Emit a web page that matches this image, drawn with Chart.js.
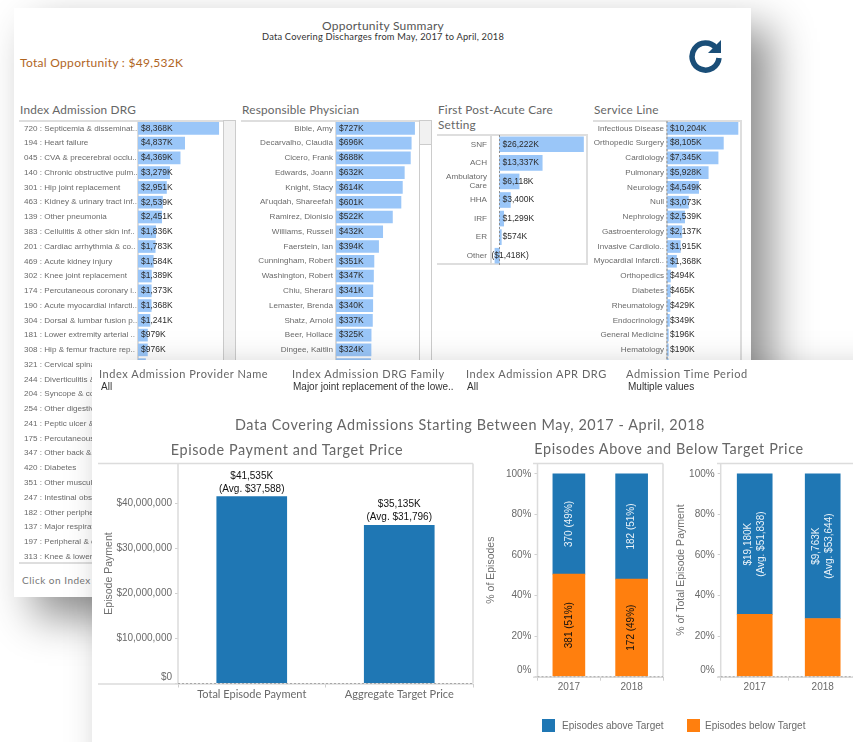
<!DOCTYPE html>
<html lang="en">
<head>
<meta charset="UTF-8" />
<title>Opportunity Summary</title>
<script src="https://cdn.jsdelivr.net/npm/chart.js@4"></script>
<style>
  html, body { margin:0; padding:0; background:#fff; width:853px; height:742px; overflow:hidden; }
  body { position:relative; font-family:"Liberation Sans", Arial, sans-serif; }
  .panel { position:absolute; background:#fff; box-shadow:20px 20px 40px rgba(0,0,0,.45); }
  #back { left:14px; top:8px; width:737px; height:589px; z-index:1; }
  #front { left:92px; top:360px; width:800px; height:420px; z-index:2; }
  .abs { position:absolute; }
  /* all children are placed in page coordinates */
  .layer { position:absolute; white-space:nowrap; }
  canvas { position:absolute; }
  .ttl { font-family:"Lato", "Noto Sans", sans-serif; color:#666; letter-spacing:.2px; }
  .head { font-size:11.8px; top:102px; }
  .filter { font-size:11px; top:367px; letter-spacing:.55px; }
  .pick { font-size:10px; top:381px; color:#333; }
  .big { font-size:14.4px; letter-spacing:.6px; transform:translateX(-50%); }
  .line { position:absolute; background:#dedede; }
  .key { position:absolute; width:13px; height:13px; }
</style>
</head>
<body>
<div class="panel" id="back"></div>
<div class="layer" id="backLayer" style="left:0;top:0;z-index:1;width:853px;height:597px;overflow:hidden">
  <div class="layer ttl" style="left:383px;top:18px;transform:translateX(-50%);font-size:12px;letter-spacing:.25px;color:#555">Opportunity Summary</div>
  <div class="layer ttl" style="left:383px;top:31px;transform:translateX(-50%);font-size:9.3px;color:#333">Data Covering Discharges from May, 2017 to April, 2018</div>
  <div class="layer ttl" style="left:20px;top:55px;font-size:12px;color:#b0651f;letter-spacing:.3px">Total Opportunity : $49,532K</div>
  <svg class="abs" style="left:688px;top:38px" width="36" height="36" viewBox="0 0 36 36">
    <path d="M28 10 A13.5 13.5 0 1 0 31 20" fill="none" stroke="#1a4e78" stroke-width="5.5"/>
    <path d="M33 2 L33 15 L20 15 Z" fill="#1a4e78"/>
  </svg>
  <div class="layer ttl head" style="left:20px">Index Admission DRG</div>
  <div class="layer ttl head" style="left:242px">Responsible Physician</div>
  <div class="layer ttl head" style="left:438px;line-height:15px">First Post-Acute Care<br>Setting</div>
  <div class="layer ttl head" style="left:594px">Service Line</div>

  <div class="line" style="left:19px;top:120px;width:217px;height:2px"></div>
  <div class="line" style="left:19px;top:562px;width:217px;height:1.5px"></div>
  <div class="abs" style="left:223px;top:120px;width:11px;height:443px;background:#f1f1f1;border:1px solid #ccc"></div>
  <div class="line" style="left:241px;top:120px;width:191px;height:2px"></div>
  <div class="abs" style="left:419px;top:120px;width:11px;height:23px;background:#f1f1f1;border:1px solid #ccc"></div>
  <div class="abs" style="left:419px;top:120px;width:11px;height:443px;border:1px solid #ccc"></div>
  <div class="line" style="left:437px;top:134px;width:150px;height:2px"></div>
  <div class="line" style="left:437px;top:263px;width:150px;height:2px"></div>
  <div class="line" style="left:586px;top:134px;width:2px;height:131px"></div>
  <div class="line" style="left:593px;top:120px;width:148px;height:2px"></div>
  <div class="line" style="left:740px;top:120px;width:1.5px;height:443px"></div>

  <canvas id="drgChart" style="left:24px;top:120.6px" width="196" height="443"></canvas>
  <canvas id="physicianChart" style="left:241px;top:120.6px" width="175" height="251"></canvas>
  <canvas id="settingChart" style="left:437px;top:135px" width="149" height="130"></canvas>
  <canvas id="serviceChart" style="left:593px;top:120.6px" width="146" height="251"></canvas>

  <div class="layer ttl" style="left:22px;top:574px;font-size:10px;color:#777;letter-spacing:.5px">Click on Index Admission DRG</div>
</div>

<div class="panel" id="front"></div>
<div class="layer" id="frontLayer" style="left:0;top:0;z-index:2;width:853px;height:742px;overflow:hidden">
  <div class="layer ttl filter" style="left:99px">Index Admission Provider Name</div>
  <div class="layer pick" style="left:101px">All</div>
  <div class="layer ttl filter" style="left:292px">Index Admission DRG Family</div>
  <div class="layer pick" style="left:293px">Major joint replacement of the lowe..</div>
  <div class="layer ttl filter" style="left:466px">Index Admission APR DRG</div>
  <div class="layer pick" style="left:467px">All</div>
  <div class="layer ttl filter" style="left:626px">Admission Time Period</div>
  <div class="layer pick" style="left:628px">Multiple values</div>

  <div class="layer ttl big" style="left:470px;top:416px">Data Covering Admissions Starting Between May, 2017 - April, 2018</div>
  <div class="layer ttl big" style="left:287px;top:441px">Episode Payment and Target Price</div>
  <div class="layer ttl big" style="left:669px;top:440px">Episodes Above and Below Target Price</div>

  <canvas id="paymentChart" style="left:98px;top:460px" width="383" height="250"></canvas>
  <canvas id="episodeChart" style="left:484px;top:460px" width="186" height="240"></canvas>
  <canvas id="shareChart" style="left:672px;top:460px" width="190" height="240"></canvas>

  <div id="legendBox"></div>
</div>

<script>
// values in $K
const drgLabels = [
  '720 : Septicemia & disseminat..', '194 : Heart failure', '045 : CVA & precerebral occlu..',
  '140 : Chronic obstructive pulm..', '301 : Hip joint replacement', '463 : Kidney & urinary tract inf..',
  '139 : Other pneumonia', '383 : Cellulitis & other skin inf..', '201 : Cardiac arrhythmia & co..',
  '469 : Acute kidney injury', '302 : Knee joint replacement', '174 : Percutaneous coronary i..',
  '190 : Acute myocardial infarcti..', '304 : Dorsal & lumbar fusion p..', '181 : Lower extremity arterial ..',
  '308 : Hip & femur fracture rep..', '321 : Cervical spinal fusion', '244 : Diverticulitis & diverticulosis',
  '204 : Syncope & collapse', '254 : Other digestive system', '241 : Peptic ulcer & gastritis',
  '175 : Percutaneous coronary', '347 : Other back & neck', '420 : Diabetes',
  '351 : Other musculoskeletal', '247 : Intestinal obstruction', '182 : Other peripheral vascular',
  '137 : Major respiratory infect..', '197 : Peripheral & other', '313 : Knee & lower leg'
];
const drgValues = [8368, 4837, 4369, 3279, 2951, 2539, 2451, 1836, 1783, 1584, 1389, 1373, 1368, 1241, 979, 976,
  780, 750, 720, 700, 680, 650, 620, 600, 570, 540, 510, 480, 450, 420];

const physicianLabels = ['Bible, Amy', 'Decarvalho, Claudia', 'Cicero, Frank', 'Edwards, Joann', 'Knight, Stacy',
  "Al'uqdah, Shareefah", 'Ramirez, Dionisio', 'Williams, Russell', 'Faerstein, Ian', 'Cunningham, Robert',
  'Washington, Robert', 'Chiu, Sherard', 'Lemaster, Brenda', 'Shatz, Arnold', 'Beer, Hollace', 'Dingee, Kaitlin', ''];
const physicianValues = [727, 696, 688, 632, 614, 601, 522, 432, 394, 351, 347, 341, 340, 337, 325, 324, 320];

const settingLabels = ['SNF', 'ACH', ['Ambulatory', 'Care'], 'HHA', 'IRF', 'ER', 'Other'];
const settingValues = [26222, 13337, 6118, 3400, 1299, 574, -1418];

const serviceLabels = ['Infectious Disease', 'Orthopedic Surgery', 'Cardiology', 'Pulmonary', 'Neurology', 'Null',
  'Nephrology', 'Gastroenterology', 'Invasive Cardiolo..', 'Myocardial Infarcti..', 'Orthopedics', 'Diabetes',
  'Rheumatology', 'Endocrinology', 'General Medicine', 'Hematology', ''];
const serviceValues = [10204, 8105, 7345, 5928, 4549, 3073, 2539, 2137, 1915, 1368, 494, 465, 429, 349, 196, 190, 170];

const paymentLabels = ['Total Episode Payment', 'Aggregate Target Price'];
const paymentValues = [41535000, 35135000];
const paymentAvg = ['$37,588', '$31,796'];
const paymentTicks = [0, 10000000, 20000000, 30000000, 40000000];

const yearLabels = ['2017', '2018'];
const percentTicks = [0, 20, 40, 60, 80, 100];
const legendLabels = ['Episodes above Target', 'Episodes below Target'];
const episodesAbove = [49.4, 51.9];
const episodesBelow = [50.6, 48.1];
const episodesAboveText = ['370 (49%)', '182 (51%)'];
const episodesBelowText = ['381 (51%)', '172 (49%)'];
const shareAbove = [69.3, 71.3];
const shareBelow = [30.7, 28.7];
const shareAboveText = [['$19,180K', '(Avg. $51,838)'], ['$9,763K', '(Avg. $53,644)']];

const LIGHT_BLUE = '#9ac6f8';
const BLUE = '#1f77b4';
const ORANGE = '#ff7f0e';
const SANS = '"Liberation Sans", Arial, sans-serif';
const TREB = '"Lato", "Noto Sans", sans-serif';

function moneyK(v) {
  const s = '$' + Math.abs(v).toLocaleString('en-US') + 'K';
  return v < 0 ? '(' + s + ')' : s;
}

// list style charts of the back panel
function listChart(id, labels, values, o) {
  const valueLabels = {
    id: 'valueLabels',
    afterDatasetsDraw(chart) {
      const ctx = chart.ctx;
      const zero = chart.scales.x.getPixelForValue(0);
      ctx.save();
      if (o.zeroLine) {
        ctx.strokeStyle = '#8f8f8f';
        ctx.setLineDash([2, 2]);
        ctx.beginPath();
        ctx.moveTo(zero, chart.chartArea.top);
        ctx.lineTo(zero, chart.chartArea.bottom);
        ctx.stroke();
        ctx.setLineDash([]);
      }
      ctx.font = '8.5px ' + SANS;
      ctx.fillStyle = '#2b2b2b';
      ctx.textBaseline = 'middle';
      chart.getDatasetMeta(0).data.forEach((bar, i) => {
        const x = values[i] < 0 ? bar.x - 3.5 : zero + 3;
        ctx.fillText(moneyK(values[i]), x, bar.y);
      });
      ctx.restore();
    }
  };
  return new Chart(document.getElementById(id), {
    type: 'bar',
    data: { labels: labels, datasets: [{ data: values, backgroundColor: LIGHT_BLUE, barThickness: o.bar }] },
    options: {
      indexAxis: 'y',
      responsive: false,
      animation: false,
      events: [],
      layout: { padding: 0 },
      plugins: { legend: { display: false }, tooltip: { enabled: false } },
      scales: {
        x: { display: false, min: o.min, max: o.max },
        y: {
          afterFit(scale) { scale.width = o.axis; scale.paddingTop = 0; scale.paddingBottom = 0; },
          grid: { display: false, drawTicks: false },
          border: { color: '#dcdcdc', width: 2 },
          ticks: {
            autoSkip: false,
            crossAlign: o.align,
            padding: o.pad,
            color: '#6a6a6a',
            font: { family: SANS, size: 8.1, lineHeight: 1.1 }
          }
        }
      }
    },
    plugins: [valueLabels]
  });
}

listChart('drgChart', drgLabels, drgValues, { axis: 114, min: 0, max: 8500, bar: 12, align: 'far', pad: 3 });
listChart('physicianChart', physicianLabels, physicianValues, { axis: 95, min: 0, max: 740, bar: 12, align: 'near', pad: 3 });
listChart('settingChart', settingLabels, settingValues, { axis: 54, min: -2650, max: 27000, bar: 15, align: 'near', pad: 4, zeroLine: true });
listChart('serviceChart', serviceLabels, serviceValues, { axis: 74, min: 0, max: 10350, bar: 12, align: 'near', pad: 3, zeroLine: true });

// frame, zero line and text on the marks of the front panel
function framePlugin(o) {
  return {
    id: 'frame',
    afterDatasetsDraw(chart) {
      const ctx = chart.ctx;
      const a = chart.chartArea;
      ctx.save();
      ctx.strokeStyle = '#dcdcdc';
      ctx.lineWidth = 1.5;
      ctx.beginPath();
      ctx.moveTo(o.left, a.top); ctx.lineTo(a.right, a.top);
      ctx.moveTo(a.left, a.top); ctx.lineTo(a.left, a.bottom);
      ctx.moveTo(a.right, a.top); ctx.lineTo(a.right, a.bottom);
      ctx.moveTo(o.left, a.bottom + 0.5); ctx.lineTo(a.right, a.bottom + 0.5);
      ctx.stroke();
      ctx.strokeStyle = '#a8a8a8';
      ctx.lineWidth = 1;
      ctx.setLineDash([2, 2]);
      ctx.beginPath();
      ctx.moveTo(a.left, chart.scales.y.getPixelForValue(0));
      ctx.lineTo(a.right, chart.scales.y.getPixelForValue(0));
      ctx.stroke();
      ctx.restore();
    }
  };
}

function verticalOptions(o) {
  return {
    responsive: false,
    animation: false,
    events: [],
    layout: { padding: { top: 3.5, right: o.right } },
    plugins: { legend: { display: false }, tooltip: { enabled: false } },
    scales: {
      x: {
        stacked: o.stacked,
        afterFit(scale) { scale.height = o.xHeight; scale.paddingLeft = 0; scale.paddingRight = 0; },
        border: { display: false },
        grid: { drawOnChartArea: false, tickLength: 4, color: '#cfcfcf' },
        ticks: { color: '#6a6a6a', padding: o.xPad, font: { family: o.xFont, size: o.xSize } }
      },
      y: {
        stacked: o.stacked,
        min: 0,
        max: o.max,
        afterBuildTicks(scale) { scale.ticks = o.ticks.map(v => ({ value: v })); },
        afterFit(scale) { scale.width = o.yWidth; scale.paddingTop = 0; scale.paddingBottom = 0; },
        border: { display: false },
        title: { display: true, text: o.title, color: '#6f6f6f', padding: { top: o.titlePad, bottom: 0 }, font: { family: SANS, size: 10.5 } },
        grid: { drawOnChartArea: false, tickLength: 3, color: '#cfcfcf' },
        ticks: {
          padding: 3,
          color: '#6a6a6a',
          font: { family: SANS, size: 10, lineHeight: 1.2 },
          callback: o.tick
        }
      }
    }
  };
}

const paymentText = {
  id: 'paymentText',
  afterDatasetsDraw(chart) {
    const ctx = chart.ctx;
    ctx.save();
    ctx.font = '10px ' + SANS;
    ctx.fillStyle = '#111';
    ctx.textAlign = 'center';
    chart.getDatasetMeta(0).data.forEach((bar, i) => {
      ctx.fillText('$' + (paymentValues[i] / 1000).toLocaleString('en-US') + 'K', bar.x, bar.y - 18);
      ctx.fillText('(Avg. ' + paymentAvg[i] + ')', bar.x, bar.y - 5);
    });
    ctx.restore();
  }
};

new Chart(document.getElementById('paymentChart'), {
  type: 'bar',
  data: { labels: paymentLabels, datasets: [{ data: paymentValues, backgroundColor: BLUE, barThickness: 70 }] },
  options: verticalOptions({
    right: 8, stacked: false, xHeight: 26.5, xFont: TREB, xSize: 11, xPad: 0, max: 48900000, yWidth: 80,
    title: 'Episode Payment', titlePad: 5, ticks: paymentTicks,
    tick: v => v === 0 ? ['$0', ''] : '$' + v.toLocaleString('en-US')
  }),
  plugins: [framePlugin({ left: 0 }), paymentText]
});

// rotated text in the middle of a stacked segment
function rotatedText(rows) {
  return {
    id: 'rotatedText',
    afterDatasetsDraw(chart) {
      const ctx = chart.ctx;
      ctx.save();
      ctx.font = '10px ' + SANS;
      ctx.textAlign = 'center';
      ctx.textBaseline = 'middle';
      rows.forEach(r => {
        chart.getDatasetMeta(r.dataset).data.forEach((bar, i) => {
          const lines = [].concat(r.text[i]);
          ctx.save();
          ctx.translate(bar.x, (bar.y + bar.base) / 2);
          ctx.rotate(-Math.PI / 2);
          ctx.fillStyle = r.color;
          lines.forEach((t, n) => ctx.fillText(t, 0, (n - (lines.length - 1) / 2) * 13.5));
          ctx.restore();
        });
      });
      ctx.restore();
    }
  };
}

const percentTick = v => v === 0 ? ['0%', ''] : v + '%';

new Chart(document.getElementById('episodeChart'), {
  type: 'bar',
  data: {
    labels: yearLabels,
    datasets: [
      { label: legendLabels[1], data: episodesBelow, backgroundColor: ORANGE, barThickness: 32 },
      { label: legendLabels[0], data: episodesAbove, backgroundColor: BLUE, barThickness: 32 }
    ]
  },
  options: verticalOptions({
    right: 7, stacked: true, xHeight: 23.3, xFont: SANS, xSize: 10, xPad: 1, max: 105.1, yWidth: 53.5,
    title: '% of Episodes', titlePad: 1, ticks: percentTicks, tick: percentTick
  }),
  plugins: [framePlugin({ left: 49 }), rotatedText([
    { dataset: 1, text: episodesAboveText, color: '#e8f1f8' },
    { dataset: 0, text: episodesBelowText, color: '#111' }
  ])]
});

new Chart(document.getElementById('shareChart'), {
  type: 'bar',
  data: {
    labels: yearLabels,
    datasets: [
      { label: legendLabels[1], data: shareBelow, backgroundColor: ORANGE, barThickness: 35 },
      { label: legendLabels[0], data: shareAbove, backgroundColor: BLUE, barThickness: 35 }
    ]
  },
  options: verticalOptions({
    right: 5.3, stacked: true, xHeight: 23.3, xFont: SANS, xSize: 10, xPad: 1, max: 105.1, yWidth: 48.7,
    title: '% of Total Episode Payment', titlePad: 3, ticks: percentTicks, tick: percentTick
  }),
  plugins: [framePlugin({ left: 45 }), rotatedText([
    { dataset: 1, text: shareAboveText, color: '#e8f1f8' }
  ])]
});

// legend below the stacked charts
const legendBox = document.getElementById('legendBox');
[[542, 562, BLUE], [687, 705, ORANGE]].forEach((k, i) => {
  const key = document.createElement('div');
  key.className = 'key';
  key.style.cssText = 'left:' + k[0] + 'px;top:719px;background:' + k[2];
  legendBox.appendChild(key);
  const txt = document.createElement('div');
  txt.className = 'layer';
  txt.style.cssText = 'left:' + k[1] + 'px;top:720px;font-size:10px;color:#6a6a6a';
  txt.textContent = legendLabels[i];
  legendBox.appendChild(txt);
});
</script>
</body>
</html>
